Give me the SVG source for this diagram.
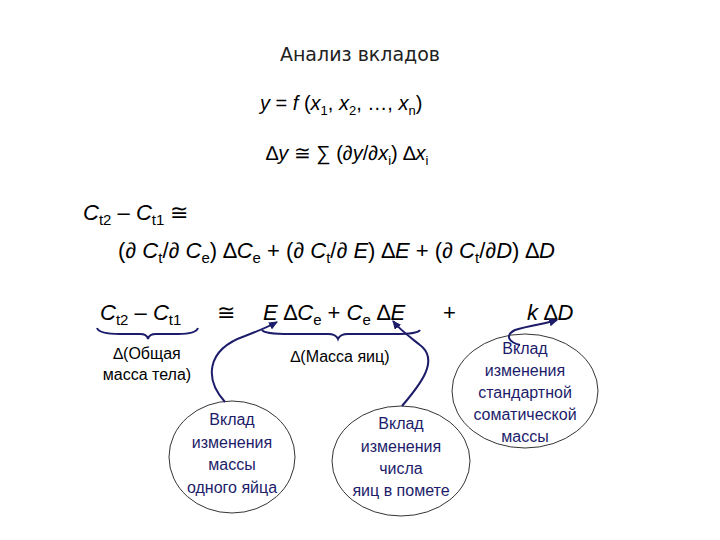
<svg xmlns="http://www.w3.org/2000/svg" width="720" height="540" viewBox="0 0 720 540">
<defs>
<marker id="ah" markerWidth="9" markerHeight="8" refX="8" refY="4" orient="auto" markerUnits="userSpaceOnUse"><path d="M0,0 L9,4 L0,8 Z" fill="#1c1c6a"/></marker>
<style>
.f{font-family:"Liberation Sans",Arial,sans-serif;fill:#000}
.n{font-family:"Liberation Sans",Arial,sans-serif;fill:#1c1c6a;font-size:16px;text-anchor:middle}
.c{fill:none;stroke:#1c1c6a;stroke-width:2}
.e{fill:#fff;stroke:#000;stroke-width:0.8}
</style>
</defs>
<rect width="720" height="540" fill="#fff"/>
<text x="360" y="61" text-anchor="middle" style="font-family:'DejaVu Sans',sans-serif;font-size:19px;fill:#222">Анализ вкладов</text>
<text class="f" x="260" y="110" font-size="20"><tspan font-style="italic">y</tspan> = <tspan font-style="italic">f</tspan> (<tspan font-style="italic">x</tspan><tspan font-size="13" dy="5">1</tspan><tspan dy="-5">, </tspan><tspan font-style="italic">x</tspan><tspan font-size="13" dy="5">2</tspan><tspan dy="-5">, …, </tspan><tspan font-style="italic">x</tspan><tspan font-size="13" dy="5">n</tspan><tspan dy="-5">)</tspan></text>
<text class="f" x="266" y="160" font-size="20">∆<tspan font-style="italic">y</tspan> ≅ ∑ (∂<tspan font-style="italic">y</tspan>/∂<tspan font-style="italic">x</tspan><tspan font-size="13" dy="5">i</tspan><tspan dy="-5">) ∆</tspan><tspan font-style="italic">x</tspan><tspan font-size="13" dy="5">i</tspan></text>
<text class="f" x="83" y="220" font-size="22"><tspan font-style="italic">C</tspan><tspan font-size="15" dy="5">t2</tspan><tspan dy="-5"> – </tspan><tspan font-style="italic">C</tspan><tspan font-size="15" dy="5">t1</tspan><tspan dy="-5"> ≅</tspan></text>
<text class="f" x="118" y="258" font-size="22">(∂ <tspan font-style="italic">C</tspan><tspan font-size="15" dy="5">t</tspan><tspan dy="-5">/∂ </tspan><tspan font-style="italic">C</tspan><tspan font-size="15" dy="5">e</tspan><tspan dy="-5">) ∆</tspan><tspan font-style="italic">C</tspan><tspan font-size="15" dy="5">e</tspan><tspan dy="-5"> + (∂ </tspan><tspan font-style="italic">C</tspan><tspan font-size="15" dy="5">t</tspan><tspan dy="-5">/∂ </tspan><tspan font-style="italic">E</tspan>) ∆<tspan font-style="italic">E</tspan> + (∂ <tspan font-style="italic">C</tspan><tspan font-size="15" dy="5">t</tspan><tspan dy="-5">/∂</tspan><tspan font-style="italic">D</tspan>) ∆<tspan font-style="italic">D</tspan></text>
<text class="f" x="100" y="320" font-size="22"><tspan font-style="italic">C</tspan><tspan font-size="15" dy="5">t2</tspan><tspan dy="-5"> – </tspan><tspan font-style="italic">C</tspan><tspan font-size="15" dy="5">t1</tspan></text>
<text class="f" x="217" y="320" font-size="22">≅</text>
<text class="f" x="263" y="320" font-size="22"><tspan font-style="italic">E</tspan> ∆<tspan font-style="italic">C</tspan><tspan font-size="15" dy="5">e</tspan><tspan dy="-5"> + </tspan><tspan font-style="italic">C</tspan><tspan font-size="15" dy="5">e</tspan><tspan dy="-5"> ∆</tspan><tspan font-style="italic">E</tspan></text>
<text class="f" x="443" y="320" font-size="22">+</text>
<text class="f" x="527" y="320" font-size="22"><tspan font-style="italic">k</tspan> ∆<tspan font-style="italic">D</tspan></text>
<g id="braces">
<path class="c" d="M97,328 Q99,334 120,334 L140,334 Q147,334 148,339 Q149,334 156,334 L178,334 Q196,334 198,328"/>
<path class="c" d="M262,330 Q264,334 290,334 L328,334 Q336,334 338,339 Q340,334 348,334 L395,334 Q418,334 420,330"/>
</g>
<text class="f" x="147" y="359" font-size="16" text-anchor="middle">∆(Общая</text>
<text class="f" x="147" y="380" font-size="16" text-anchor="middle">масса тела)</text>
<text class="f" x="340" y="362" font-size="16" text-anchor="middle">∆(Масса яиц)</text>
<g id="n1"><ellipse class="e" cx="232" cy="457" rx="63" ry="56"/>
<text class="n" x="232" y="425">Вклад</text><text class="n" x="232" y="448">изменения</text><text class="n" x="232" y="470">массы</text><text class="n" x="232" y="493">одного яйца</text></g>
<g id="n2"><ellipse class="e" cx="401" cy="461" rx="69" ry="55"/>
<text class="n" x="401" y="429">Вклад</text><text class="n" x="401" y="452">изменения</text><text class="n" x="401" y="474">числа</text><text class="n" x="401" y="496">яиц в помете</text></g>
<g id="n3"><ellipse class="e" cx="525" cy="391" rx="73" ry="57"/>
<text class="n" x="525" y="354">Вклад</text><text class="n" x="525" y="376">изменения</text><text class="n" x="525" y="398">стандартной</text><text class="n" x="525" y="420">соматической</text><text class="n" x="525" y="442">массы</text></g>
<g id="connectors">
<path class="c" marker-end="url(#ah)" d="M225,402 C205,380 205,350 245,336 C258,331 268,327 277,322"/>
<path class="c" marker-end="url(#ah)" d="M402,406 C420,385 440,360 420,345 C410,337 400,330 393,321"/>
<path class="c" marker-end="url(#ah)" d="M520,345 C508,342 505,335 515,330 C530,325 545,324 557,320"/>
</g>
</svg>
